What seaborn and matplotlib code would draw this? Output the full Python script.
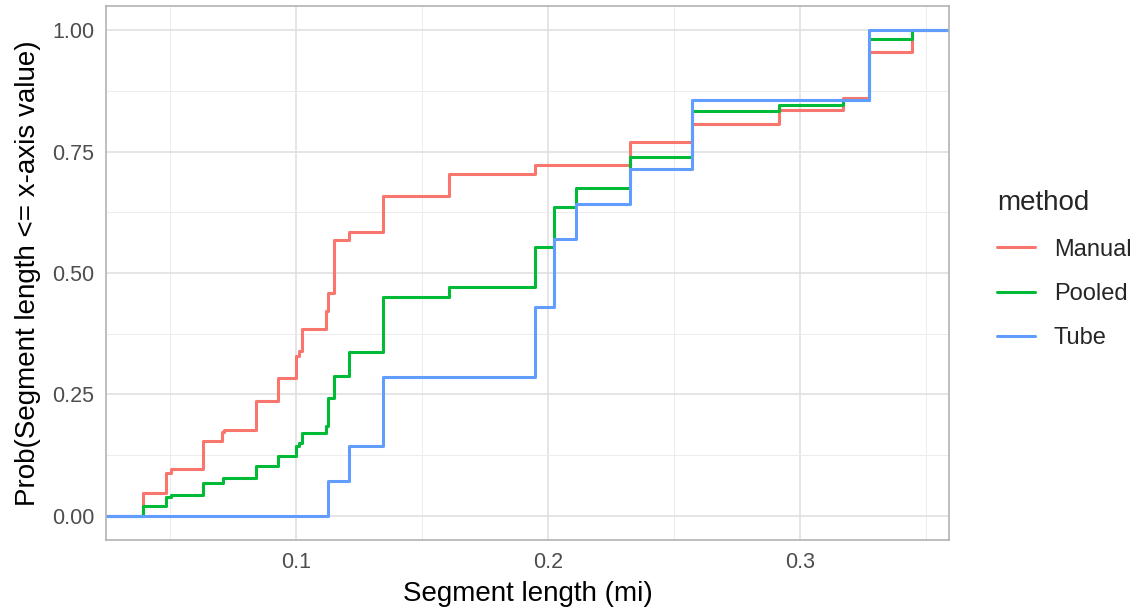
import pandas as pd
import matplotlib.pyplot as plt
import seaborn as sns

# step positions (segment length, mi) and cumulative probability after each step
length_manual = [0.0394, 0.0483, 0.0503, 0.0630, 0.0708, 0.0714, 0.0840, 0.0927,
                 0.1000, 0.1012, 0.1025, 0.1119, 0.1126, 0.1152, 0.1210, 0.1344,
                 0.1608, 0.1948, 0.2325, 0.2573, 0.2917, 0.3169, 0.3274, 0.3443]
prob_manual = [0.046, 0.088, 0.097, 0.153, 0.172, 0.177, 0.237, 0.283,
               0.329, 0.339, 0.385, 0.421, 0.459, 0.567, 0.585, 0.658,
               0.704, 0.723, 0.769, 0.806, 0.836, 0.861, 0.955, 1.0]

length_pooled = [0.0394, 0.0483, 0.0503, 0.0630, 0.0712, 0.0840, 0.0927, 0.1000,
                 0.1012, 0.1025, 0.1119, 0.1126, 0.1152, 0.1210, 0.1344, 0.1608,
                 0.1948, 0.2024, 0.2111, 0.2325, 0.2573, 0.2917, 0.3169, 0.3274,
                 0.3443]
prob_pooled = [0.021, 0.038, 0.043, 0.068, 0.077, 0.103, 0.124, 0.144,
               0.149, 0.170, 0.185, 0.242, 0.288, 0.337, 0.451, 0.472,
               0.554, 0.635, 0.676, 0.738, 0.834, 0.846, 0.856, 0.981,
               1.0]

length_tube = [0.1127, 0.1210, 0.1344, 0.1948, 0.2024, 0.2111, 0.2325, 0.2573, 0.3274]
prob_tube = [0.071, 0.143, 0.286, 0.429, 0.571, 0.643, 0.714, 0.857, 1.0]

methods = ["Manual", "Pooled", "Tube"]
colors = ["#F8766D", "#00BA38", "#619CFF"]

x_lo, x_hi = 0.0246, 0.3591

# ecdf lines run from the left edge at 0 to the right edge at 1 (like ggplot stat_ecdf)
rows = []
for m, xs, ps in zip(methods, [length_manual, length_pooled, length_tube],
                     [prob_manual, prob_pooled, prob_tube]):
    rows.append((m, x_lo, 0.0))
    rows += [(m, x, p) for x, p in zip(xs, ps)]
    rows.append((m, x_hi, 1.0))
df = pd.DataFrame(rows, columns=["method", "length", "prob"])

sns.set_theme(style="white")
plt.rcParams["font.family"] = ["Liberation Sans", "DejaVu Sans"]

fig = plt.figure(figsize=(11.35, 6.13), dpi=100)
ax = fig.add_axes([106 / 1135, 1 - 540 / 613, (949 - 106) / 1135, (540 - 6) / 613])

sns.lineplot(data=df, x="length", y="prob", hue="method", hue_order=methods,
             palette=colors, drawstyle="steps-post", estimator=None, sort=True,
             linewidth=2.2, ax=ax)

ax.set_xlim(x_lo, x_hi)
ax.set_ylim(-0.05, 1.05)
ax.set_xticks([0.1, 0.2, 0.3])
ax.set_xticklabels(["0.1", "0.2", "0.3"])
ax.set_xticks([0.05, 0.15, 0.25, 0.35], minor=True)
ax.set_yticks([0, 0.25, 0.5, 0.75, 1.0])
ax.set_yticklabels(["0.00", "0.25", "0.50", "0.75", "1.00"])
ax.set_yticks([0.125, 0.375, 0.625, 0.875], minor=True)

ax.grid(which="major", color="#dedede", linewidth=1.1)
ax.grid(which="minor", color="#ececec", linewidth=0.7)
ax.set_axisbelow(True)
for s in ax.spines.values():
    s.set_color("#b3b3b3")
    s.set_linewidth(1.2)
ax.tick_params(which="major", length=5.5, width=1.1, color="#b3b3b3",
               labelcolor="#4d4d4d", labelsize=15.5, pad=3)
ax.tick_params(which="minor", length=0)

ax.set_xlabel("Segment length (mi)", fontsize=20, color="black", labelpad=6)
ax.set_ylabel("Prob(Segment length <= x-axis value)", fontsize=20, color="black", labelpad=8)

handles, labels = ax.get_legend_handles_labels()
ax.legend(handles, labels, title="method", loc="upper left",
          bbox_to_anchor=(970 / 1135, 1 - 163 / 613), bbox_transform=fig.transFigure,
          frameon=False, fontsize=17, title_fontsize=20, handlelength=1.6,
          handletextpad=0.8, labelspacing=0.95, borderpad=0.65, alignment="left")

fig.savefig("out.png", dpi=100)
